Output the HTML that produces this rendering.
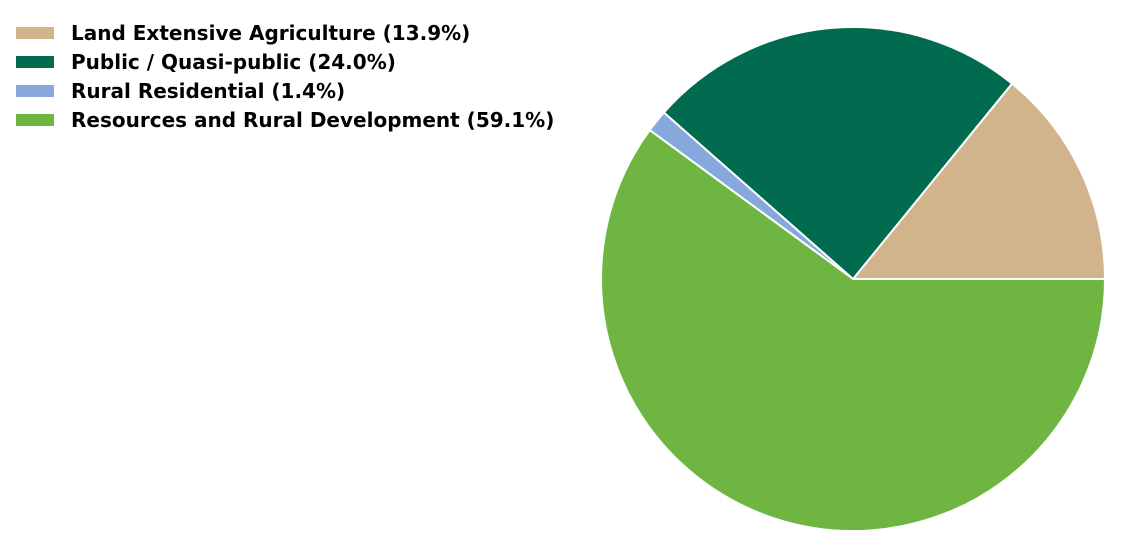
<!DOCTYPE html>
<html><head><meta charset="utf-8"><style>
html,body{margin:0;padding:0;background:#fff;width:1137px;height:558px;overflow:hidden}
svg{display:block}
text{font-family:"DejaVu Sans",sans-serif;font-weight:bold;font-size:20px;fill:#000}
</style></head><body>
<svg id="chart" width="1137" height="558"></svg>
<script>
const categories=["Land Extensive Agriculture","Public / Quasi-public","Rural Residential","Resources and Rural Development"];
const values=[13.9,24.0,1.4,59.1];
const colors=["#D2B48C","#006B4F","#86A8DC","#6FB542"];
const svg=document.getElementById('chart');
const NS="http://www.w3.org/2000/svg";
const cx=853,cy=279,r=252;
const total=values.reduce((a,b)=>a+b,0);
let a0=0;
values.forEach((v,i)=>{
  const a1=a0+v/total*2*Math.PI;
  const x0=cx+r*Math.cos(a0),y0=cy-r*Math.sin(a0);
  const x1=cx+r*Math.cos(a1),y1=cy-r*Math.sin(a1);
  const large=(a1-a0)>Math.PI?1:0;
  const p=document.createElementNS(NS,'path');
  p.setAttribute('d',`M${cx},${cy}L${x0},${y0}A${r},${r} 0 ${large} 0 ${x1},${y1}Z`);
  p.setAttribute('fill',colors[i]);
  p.setAttribute('stroke','#fff');
  p.setAttribute('stroke-width','2');
  
  
  svg.appendChild(p);
  a0=a1;
});
categories.forEach((c,i)=>{
  const y=33+i*29;
  const rc=document.createElementNS(NS,'rect');
  rc.setAttribute('x',16);rc.setAttribute('y',y-6);rc.setAttribute('width',38);rc.setAttribute('height',12);
  rc.setAttribute('fill',colors[i]);
  
  
  svg.appendChild(rc);
  const t=document.createElementNS(NS,'text');
  t.setAttribute('x',71);t.setAttribute('y',y+7);
  t.textContent=c+' ('+values[i].toFixed(1)+'%)';
  
  
  svg.appendChild(t);
});
</script>
</body></html>
